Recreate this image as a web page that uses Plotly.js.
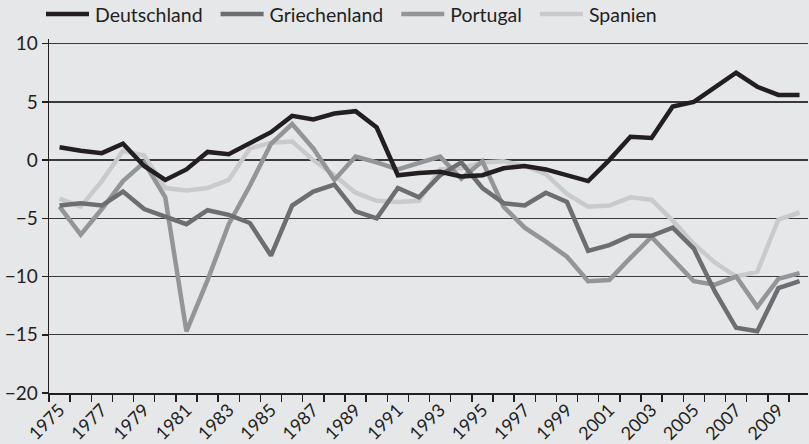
<!DOCTYPE html>
<html>
<head>
<meta charset="utf-8">
<script src="https://cdn.plot.ly/plotly-3.0.1.min.js"></script>
<style>html,body{margin:0;padding:0;background:#e6e7e9;}#chart{width:809px;height:444px;}</style>
</head>
<body>
<div id="chart"></div>
<script>
const years = [1975,1976,1977,1978,1979,1980,1981,1982,1983,1984,1985,1986,1987,1988,1989,1990,1991,1992,1993,1994,1995,1996,1997,1998,1999,2000,2001,2002,2003,2004,2005,2006,2007,2008,2009,2010];
const deutschland = [1.1,0.8,0.6,1.4,-0.5,-1.7,-0.8,0.7,0.5,1.4,2.4,3.8,3.5,4.0,4.2,2.8,-1.3,-1.1,-1.0,-1.4,-1.3,-0.7,-0.5,-0.8,-1.3,-1.8,0.0,2.0,1.9,4.6,5.0,6.2,7.5,6.3,5.6,5.6];
const griechenland = [-3.9,-3.7,-3.9,-2.7,-4.2,-4.8,-5.5,-4.3,-4.7,-5.4,-8.2,-3.9,-2.7,-2.1,-4.4,-5.0,-2.4,-3.2,-1.3,-0.2,-2.4,-3.7,-3.9,-2.8,-3.6,-7.8,-7.3,-6.5,-6.5,-5.8,-7.6,-11.3,-14.4,-14.7,-11.0,-10.4];
const portugal = [-4.0,-6.4,-4.2,-1.8,-0.2,-3.2,-14.7,-10.3,-5.5,-2.2,1.4,3.1,1.0,-1.7,0.3,-0.2,-0.8,-0.2,0.3,-1.6,-0.1,-4.0,-5.8,-7.0,-8.3,-10.4,-10.3,-8.4,-6.6,-8.5,-10.4,-10.7,-10.0,-12.6,-10.2,-9.7];
const spanien = [-3.3,-4.0,-1.8,0.8,0.4,-2.4,-2.6,-2.4,-1.7,1.0,1.5,1.6,0.0,-1.3,-2.8,-3.5,-3.6,-3.5,-0.8,-0.7,-0.2,-0.1,-0.5,-1.2,-2.9,-4.0,-3.9,-3.2,-3.4,-5.2,-7.2,-8.8,-10.0,-9.6,-5.1,-4.5];
const seriesNames = ["Deutschland","Griechenland","Portugal","Spanien"];
const yTicks = [-20,-15,-10,-5,0,5,10];
const yTickText = ["\u221220","\u221215","\u221210","\u22125","0","5","10"];
const xLabelYears = years.filter(y => y % 2 === 1);

const colors = ["#231f20","#6d6e71","#939598","#c9cacc"];
const data = [
  {name: seriesNames[3], y: spanien, c: colors[3]},
  {name: seriesNames[2], y: portugal, c: colors[2]},
  {name: seriesNames[1], y: griechenland, c: colors[1]},
  {name: seriesNames[0], y: deutschland, c: colors[0]}
].map(s => ({
  type: "scatter", mode: "lines", x: years, y: s.y, name: s.name,
  line: {color: s.c, width: 4.5}, hoverinfo: "skip"
}));

const font = "Lato, 'Open Sans', sans-serif";
const layout = {
  width: 809, height: 444,
  margin: {l: 49, r: 1, t: 38, b: 51},
  paper_bgcolor: "#e6e7e9", plot_bgcolor: "#e6e7e9",
  font: {family: font, size: 19, color: "#231f20"},
  showlegend: true,
  legend: {
    orientation: "h", traceorder: "reversed",
    xref: "container", yref: "container", x: 0.045, y: 1, xanchor: "left", yanchor: "top",
    font: {family: font, size: 19.5, color: "#231f20"},
    bgcolor: "rgba(0,0,0,0)", borderwidth: 0
  },
  xaxis: {
    type: "linear", range: [1974.5, 2010.4],
    tickmode: "array", tickvals: xLabelYears, ticktext: xLabelYears.map(String),
    ticks: "", tickangle: -45, showgrid: false, zeroline: false,
    showline: true, linecolor: "#231f20", linewidth: 1.5,
    ticklabelstandoff: -2,
    minor: {tickmode: "linear", tick0: 1974.5, dtick: 1, ticks: "outside", ticklen: 7, tickcolor: "#231f20", tickwidth: 1.5, showgrid: false},
    tickfont: {family: font, size: 18, color: "#231f20"}
  },
  yaxis: {
    range: [-20, 10.4], tickmode: "array", tickvals: yTicks, ticktext: yTickText,
    ticks: "outside", ticklen: 6, tickcolor: "#231f20", tickwidth: 1.5,
    showgrid: true, gridcolor: "#3a3a3a", gridwidth: 1.3,
    zeroline: true, zerolinecolor: "#3a3a3a", zerolinewidth: 1.3,
    showline: true, linecolor: "#231f20", linewidth: 1.5,
    tickfont: {family: font, size: 19, color: "#231f20"}
  }
};

// legend entry geometry (px): symbol length, gap to text, gap to next entry, first symbol start, vertical centre
const LEG = {sym: 43, textGap: 6, itemGap: 18, start: 46, cy: 14};

Plotly.newPlot("chart", data, layout, {displayModeBar: false, staticPlot: true}).then(gd => {
  gd.querySelectorAll(".legend [clip-path]").forEach(el => el.removeAttribute("clip-path"));
  const items = gd.querySelectorAll(".legend g.traces");
  let target = LEG.start;
  items.forEach(item => {
    const path = item.querySelector(".legendlines path");
    const text = item.querySelector("text.legendtext");
    if (!path || !text) return;
    path.setAttribute("d", "M0,0h" + LEG.sym);
    text.setAttribute("x", LEG.sym + LEG.textGap);
    const m = (item.getAttribute("transform") || "").match(/translate\(([-\d.]+)[ ,]*([-\d.]*)\)/);
    const tx = m ? parseFloat(m[1]) : 0, ty = m && m[2] ? parseFloat(m[2]) : 0;
    const r = path.getBoundingClientRect();
    const dx = target - r.left, dy = LEG.cy - (r.top + r.height / 2);
    item.setAttribute("transform", "translate(" + (tx + dx) + "," + (ty + dy) + ")");
    target += LEG.sym + LEG.textGap + text.getComputedTextLength() + LEG.itemGap;
  });
});
</script>
</body>
</html>
